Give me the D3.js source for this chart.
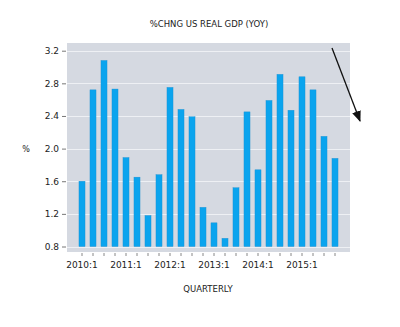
<!DOCTYPE html>
<html>
<head>
<meta charset="utf-8">
<script src="https://cdn.jsdelivr.net/npm/d3@7"></script>
<style>
  html, body { margin: 0; padding: 0; background: #ffffff; }
  svg { display: block; }
  text { font-family: "DejaVu Sans", Verdana, sans-serif; fill: #222; }
</style>
</head>
<body>
<svg id="chart" width="400" height="327"></svg>
<script>
const quarters = ["2010:1","2010:2","2010:3","2010:4","2011:1","2011:2","2011:3","2011:4",
                  "2012:1","2012:2","2012:3","2012:4","2013:1","2013:2","2013:3","2013:4",
                  "2014:1","2014:2","2014:3","2014:4","2015:1","2015:2","2015:3","2015:4"];
const gdpYoY = [1.60, 2.72, 3.08, 2.73, 1.89, 1.65, 1.18, 1.68,
                2.75, 2.48, 2.39, 1.28, 1.09, 0.90, 1.52, 2.45,
                1.74, 2.59, 2.91, 2.47, 2.88, 2.72, 2.15, 1.88];
const yTicks = [0.8, 1.2, 1.6, 2.0, 2.4, 2.8, 3.2];
const xLabels = ["2010:1","2011:1","2012:1","2013:1","2014:1","2015:1"];
const title = "%CHNG US REAL GDP (YOY)";
const xTitle = "QUARTERLY";
const yTitle = "%";

const svg = d3.select("#chart");
const plot = {left: 67, right: 350, top: 43, bottom: 252};

const y = d3.scaleLinear().domain([0.8, 3.2]).range([246.5, 50.7]);
const x = d3.scaleBand().domain(quarters).range([76.5, 340.5])
  .paddingInner(0.45).paddingOuter(0.225);

// background
svg.append("rect")
  .attr("x", plot.left).attr("y", plot.top)
  .attr("width", plot.right - plot.left).attr("height", plot.bottom - plot.top)
  .attr("fill", "#d5d9e1");

// grid lines
svg.append("g").selectAll("line").data(yTicks).join("line")
  .attr("x1", plot.left).attr("x2", plot.right)
  .attr("y1", d => Math.round(y(d)) + 0.5).attr("y2", d => Math.round(y(d)) + 0.5)
  .attr("stroke", "#eef0f4").attr("stroke-width", 1);

// bars
svg.append("g").selectAll("rect").data(gdpYoY).join("rect")
  .attr("x", (d, i) => x(quarters[i]))
  .attr("width", x.bandwidth())
  .attr("y", d => y(d))
  .attr("height", d => y(0.8) - y(d))
  .attr("fill", "#0aa4ee")
  .attr("stroke", "#1a8fd0").attr("stroke-width", 0.4);

// y axis
const yAxis = d3.axisLeft(y).tickValues(yTicks).tickFormat(d3.format(".1f"))
  .tickSize(4).tickPadding(3);
const gy = svg.append("g").attr("transform", `translate(${plot.left - 1},0)`).call(yAxis);
gy.select(".domain").remove();
gy.selectAll(".tick line").attr("stroke", "#777");
gy.selectAll(".tick text").style("font-size", "9px").attr("fill", "#222");

// x axis
const xAxis = d3.axisBottom(x).tickSize(3).tickPadding(6)
  .tickFormat(d => xLabels.includes(d) ? d : "");
const gx = svg.append("g").attr("transform", `translate(0,${plot.bottom + 1})`).call(xAxis);
gx.select(".domain").remove();
gx.selectAll(".tick line").attr("stroke", "#888");
gx.selectAll(".tick text").style("font-size", "9px").attr("fill", "#222");

// titles
svg.append("text").attr("x", 209).attr("y", 27).attr("text-anchor", "middle")
  .style("font-size", "8.5px").attr("fill", "#333").text(title);
svg.append("text").attr("x", 208).attr("y", 292).attr("text-anchor", "middle")
  .style("font-size", "8.5px").attr("fill", "#333").text(xTitle);
svg.append("text").attr("x", 26).attr("y", 152).attr("text-anchor", "middle")
  .style("font-size", "8px").text(yTitle);

// arrow annotation
const defs = svg.append("defs");
defs.append("marker").attr("id", "ah").attr("viewBox", "0 0 10 10")
  .attr("refX", 9).attr("refY", 5).attr("markerWidth", 11).attr("markerHeight", 9)
  .attr("markerUnits", "userSpaceOnUse")
  .attr("orient", "auto")
  .attr("preserveAspectRatio", "none")
  .append("path").attr("d", "M0,0 L10,5 L0,10 Z").attr("fill", "#111");
svg.append("line")
  .attr("x1", 332).attr("y1", 48).attr("x2", 360).attr("y2", 121)
  .attr("stroke", "#111").attr("stroke-width", 1.3)
  .attr("marker-end", "url(#ah)");
</script>
</body>
</html>
